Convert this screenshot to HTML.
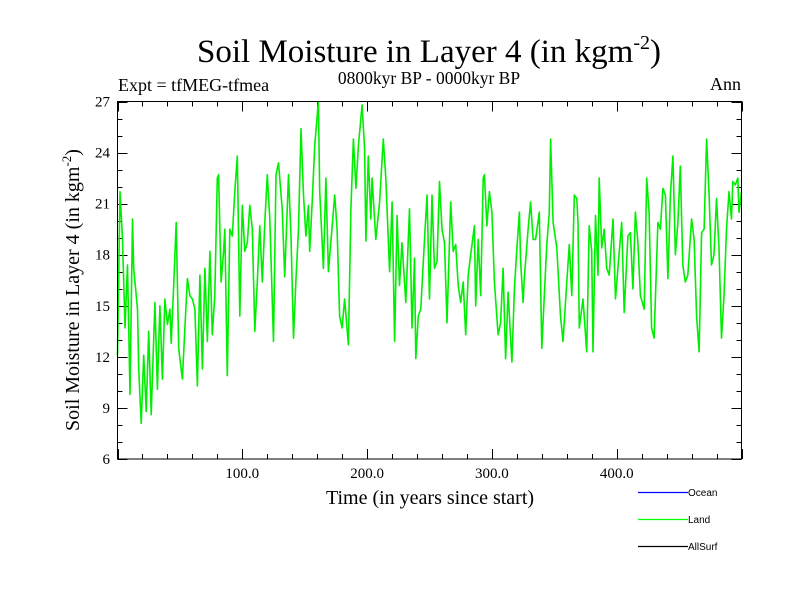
<!DOCTYPE html>
<html><head><meta charset="utf-8"><style>
html,body{margin:0;padding:0;background:#fff;}
svg{display:block;font-family:"Liberation Serif",serif;}
</style></head><body>
<svg id="chart" width="800" height="600" viewBox="0 0 800 600">
<text x="429" y="62" font-size="33" text-anchor="middle">Soil Moisture in Layer 4 (in kgm<tspan dy="-13" font-size="20">-2</tspan><tspan dy="13">)</tspan></text>
<text x="118" y="91" font-size="18">Expt = tfMEG-tfmea</text>
<text x="429" y="84" font-size="17.5" text-anchor="middle">0800kyr BP - 0000kyr BP</text>
<text x="741" y="90" font-size="18" text-anchor="end">Ann</text>
<text transform="translate(79,290) rotate(-90)" font-size="20" text-anchor="middle">Soil Moisture in Layer 4 (in kgm<tspan dy="-8" font-size="13">-2</tspan><tspan dy="8">)</tspan></text>
<text x="430" y="504" font-size="20" text-anchor="middle">Time (in years since start)</text>
<g id="ticks"></g>
<polyline id="land-line" fill="none" stroke="#00ee00" stroke-width="1.6" stroke-linejoin="round"/>
<rect x="117.5" y="101.5" width="624" height="357.5" fill="none" stroke="#000" stroke-width="1"/>
<g font-family="Liberation Sans,sans-serif" font-size="10">
<line x1="638" y1="492.5" x2="688" y2="492.5" stroke="#0000ff" stroke-width="1.3"/>
<text x="688" y="496">Ocean</text>
<line x1="638" y1="519.5" x2="688" y2="519.5" stroke="#00ff00" stroke-width="1.3"/>
<text x="688" y="523">Land</text>
<line x1="638" y1="546.5" x2="688" y2="546.5" stroke="#000" stroke-width="1.3"/>
<text x="688" y="550">AllSurf</text>
</g>
</svg>
<script>
const years=[0,2,4,6,8,10,12,13,16,17,19,21,23,25,27,30,32,34,36,38,40,42,43,45,47,49,50,52,54,56,58,60,62,64,66,68,70,72,74,76,78,80,81,83,85,86,88,90,92,94,96,98,100,102,104,106,108,110,112,114,116,118,120,122,125,127,129,132,134,137,139,141,143,145,147,149,151,153,154,156,158,161,162,165,167,169,172,174,176,178,180,182,185,187,189,191,193,196,198,199,201,203,204,207,210,213,215,218,220,222,224,226,228,231,234,236,238,239,241,243,245,248,250,252,254,256,258,260,262,264,267,269,271,273,275,277,279,281,283,286,287,289,291,293,294,296,298,300,302,305,307,309,311,313,316,318,320,322,323,325,326,329,331,333,335,338,340,342,344,346,347,349,352,355,357,360,362,364,366,368,369,370,373,376,378,380,381,383,385,386,388,390,392,394,397,399,401,404,406,409,411,413,415,417,419,422,424,426,428,430,433,435,437,439,441,443,445,447,449,451,453,455,457,460,462,464,466,468,470,472,474,476,478,480,482,484,486,488,490,492,493,495,497,498,500];
const values=[12.1,21.7,18.9,13.7,17.4,9.8,20.1,17.2,14.8,11.3,8.1,12.1,8.8,13.5,8.6,15.2,10.1,15.0,10.7,15.4,13.9,14.8,12.8,16.2,19.9,12.5,11.9,10.7,13.7,16.6,15.6,15.4,14.8,10.3,16.8,11.3,17.2,12.9,18.2,13.3,15.6,22.5,22.7,16.4,18.2,19.5,10.9,19.5,19.1,21.7,23.8,14.4,20.9,18.2,18.7,20.9,19.5,13.5,16.4,19.7,16.4,19.9,22.7,20.1,12.9,22.7,23.4,20.7,16.7,22.7,19.1,13.1,16.6,19.5,25.4,21.5,19.1,20.9,18.2,21.1,24.4,27.0,21.7,17.2,22.5,17.0,19.7,21.5,19.5,14.4,13.7,15.4,12.7,20.7,24.8,21.9,24.4,26.8,24.2,18.8,23.8,20.1,22.5,18.9,21.1,24.8,22.5,17.0,21.1,12.9,20.3,16.2,18.7,15.2,20.7,13.7,17.8,11.9,14.4,14.8,17.6,21.5,15.4,21.5,17.2,17.6,22.3,19.5,18.7,14.0,21.1,18.2,18.6,16.2,15.2,16.4,13.3,16.8,18.0,19.7,15.0,18.9,15.6,22.5,22.7,19.7,21.7,20.5,16.4,13.3,14.0,17.2,11.9,15.8,11.7,16.0,18.4,20.5,17.6,15.2,16.6,19.5,21.1,18.9,18.9,20.5,12.5,15.6,18.6,20.5,24.8,19.9,18.4,14.4,12.9,16.4,18.6,15.6,21.5,21.3,19.9,13.7,15.4,12.3,19.7,18.2,12.3,20.3,16.8,22.5,18.4,19.5,17.2,16.8,20.1,15.4,17.2,19.9,14.6,19.1,19.3,16.0,20.5,18.7,15.6,14.8,22.5,20.5,13.7,13.1,19.9,19.5,21.9,21.5,16.6,21.5,23.8,18.0,19.9,23.2,17.4,16.4,16.8,20.1,18.9,14.4,12.3,19.3,19.5,24.8,21.5,17.4,18.0,21.3,18.4,13.1,15.6,19.5,21.7,20.1,22.3,22.1,22.5,20.5,21.7];
const ns='http://www.w3.org/2000/svg';
const X0=117.5,X1=741.5,Y0=459,Y1=101.5;
function xs(v){return X0+(v-0)/(500-0)*(X1-X0);}
function ys(v){return Y0-(v-6)/(27-6)*(Y0-Y1);}
const pl=document.getElementById('land-line');
pl.setAttribute('points',years.map((y,i)=>xs(y).toFixed(1)+','+ys(values[i]).toFixed(1)).join(' '));
const g=document.getElementById('ticks');
function ln(x1,y1,x2,y2){const l=document.createElementNS(ns,'line');l.setAttribute('x1',x1);l.setAttribute('y1',y1);l.setAttribute('x2',x2);l.setAttribute('y2',y2);l.setAttribute('stroke','#000');


g.appendChild(l);}
function tx(x,y,s,anchor,name){const t=document.createElementNS(ns,'text');t.setAttribute('x',x);t.setAttribute('y',y);t.setAttribute('font-size','15');t.setAttribute('text-anchor',anchor);t.textContent=s;


g.appendChild(t);}
const yTickLabels=[6,9,12,15,18,21,24,27];
const xTickLabels=[100,200,300,400];
for(let v=6;v<=27;v++){const y=Math.round(ys(v))+0.5;const L=(v%3===0)?10:5;ln(X0,y,X0+L,y);ln(X1,y,X1-L,y);}
yTickLabels.forEach(v=>tx(110,ys(v)+5,String(v),'end','y-tick-label'));
for(let v=0;v<=500;v+=20){const x=Math.round(xs(v))+0.5;const L=(v%100===0)?10:5;ln(x,Y0,x,Y0-L);ln(x,Y1,x,Y1+L);}
xTickLabels.forEach(v=>tx(xs(v),478,v.toFixed(1),'middle','x-tick-label'));
</script>
</body></html>
